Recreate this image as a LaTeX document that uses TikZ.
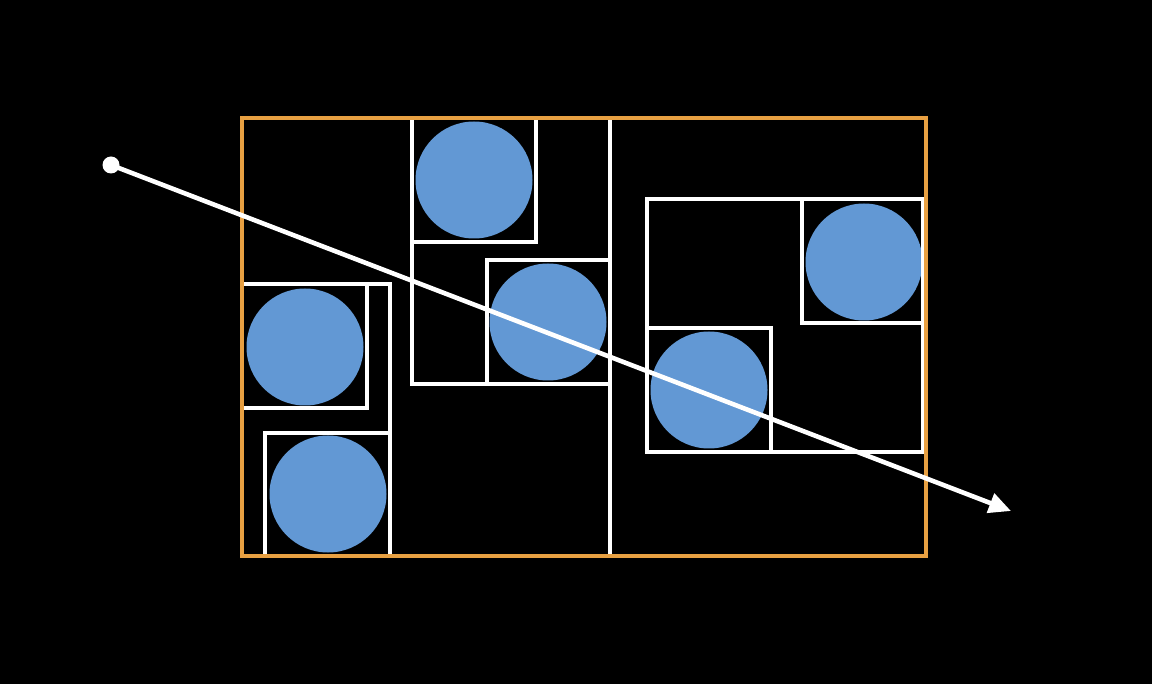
\documentclass[tikz,border=0pt]{standalone}
\usetikzlibrary{arrows.meta}
\definecolor{ball}{RGB}{98,152,212}
\definecolor{bound}{RGB}{232,160,66}
\tikzset{
  ballnode/.style={circle,fill=ball,draw=none,minimum size=117pt,inner sep=0pt},
  bvbox/.style={draw=white,line width=4.6pt},
  rootbox/.style={draw=bound,line width=4.6pt},
  ray/.style={draw=white,line width=4.6pt,-{Triangle[length=22pt,width=20pt]}},
  origin/.style={circle,fill=white,minimum size=17pt,inner sep=0pt}
}
\begin{document}
\begin{tikzpicture}[x=1pt,y=-1pt]
\fill[black] (0,0) rectangle (1152,684);
\useasboundingbox (0,0) rectangle (1152,684);
% spheres
\node[ballnode] (c1) at (305,347) {};
\node[ballnode] (c2) at (328,494) {};
\node[ballnode] (c3) at (474,180) {};
\node[ballnode] (c4) at (548,322) {};
\node[ballnode] (c5) at (864,262) {};
\node[ballnode] (c6) at (709,390) {};
% bounding volumes
\draw[bvbox] (242,284) rectangle (390,556);
\draw[bvbox] (242,284) rectangle (367,408);
\draw[bvbox] (265,433) rectangle (390,556);
\draw[bvbox] (412,118) rectangle (610,384);
\draw[bvbox] (412,118) rectangle (536,242);
\draw[bvbox] (487,260) rectangle (610,384);
\draw[bvbox] (610,118) -- (610,556);
\draw[bvbox] (647,199) rectangle (923,452);
\draw[bvbox] (802,199) rectangle (923,323);
\draw[bvbox] (647,328) rectangle (771,452);
\draw[rootbox] (242,118) rectangle (926,556);
% ray
\node[origin] (o) at (111,165) {};
\coordinate (e) at (1011,511);
\draw[ray] (o.center) -- (e);
\end{tikzpicture}
\end{document}
